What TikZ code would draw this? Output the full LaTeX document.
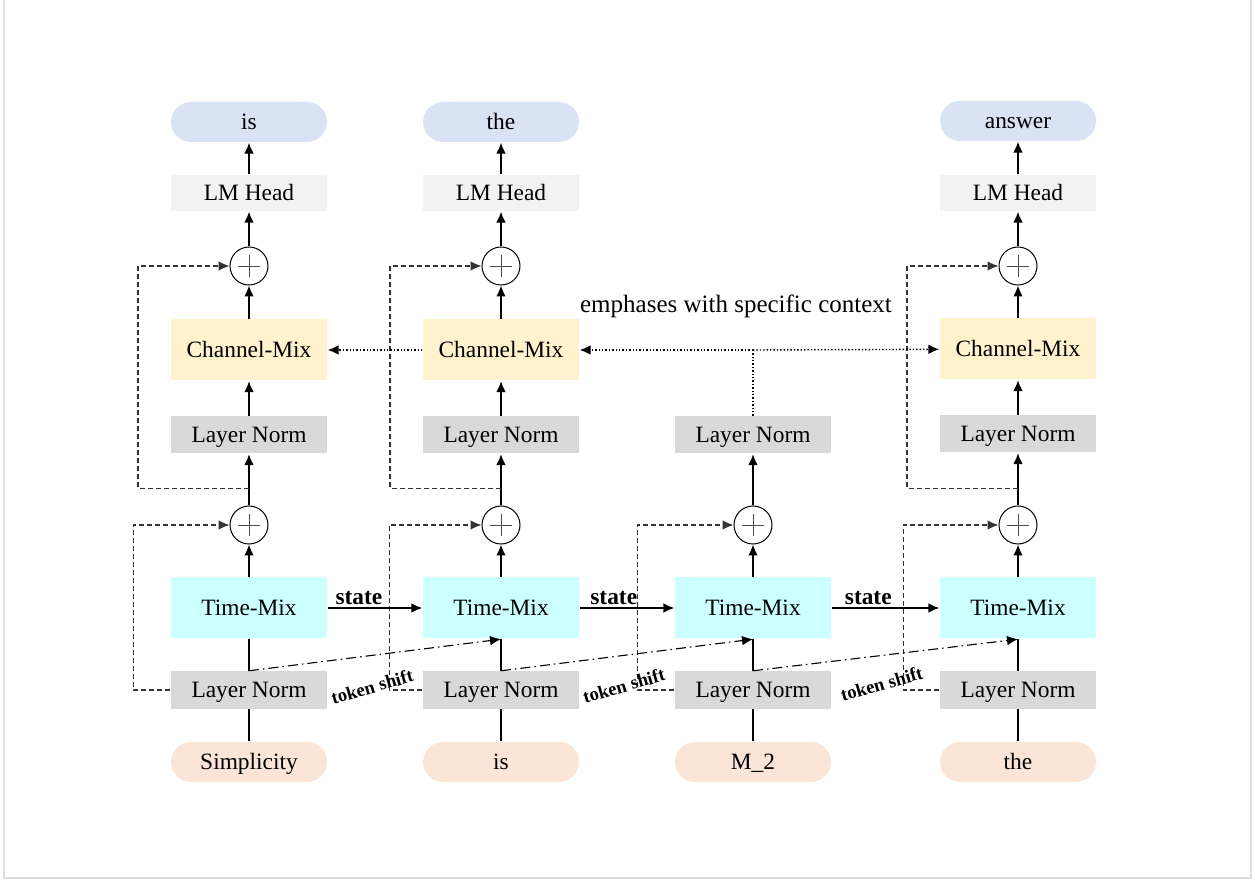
\documentclass[tikz,border=0pt]{standalone}
\usepackage{fontspec}
\setmainfont{Liberation Serif}
\usetikzlibrary{arrows.meta}
\usetikzlibrary{calc}
\tikzset{>={Latex[length=5.5pt,width=4.8pt]}}
\definecolor{outc}{HTML}{DAE3F3}
\definecolor{inc}{HTML}{FBE5D6}
\definecolor{lmc}{HTML}{F2F2F2}
\definecolor{cmc}{HTML}{FFF2CC}
\definecolor{lnc}{HTML}{D9D9D9}
\definecolor{tmc}{HTML}{CCFFFF}
\tikzset{blk/.style={minimum width=78pt,inner sep=0pt,text height=7.8pt,text depth=0pt,font=\fontsize{11.7}{14}\selectfont},
    outtok/.style={blk,fill=outc,rounded corners=10pt,minimum height=20pt},
    intok/.style={blk,fill=inc,rounded corners=10pt,minimum height=20pt},
    lmbox/.style={blk,fill=lmc,minimum height=18pt},
    cmbox/.style={blk,fill=cmc,minimum height=30.5pt},
    lnbox/.style={blk,fill=lnc,minimum height=18.5pt},
    tmbox/.style={blk,fill=tmc,minimum height=30.5pt},
    sumc/.style={circle,draw,fill=white,minimum size=19pt,inner sep=0pt,line width=0.5pt,
        path picture={\draw[black!70,line width=0.4pt]
            ($(path picture bounding box.center)+(-5.3pt,0)$) -- ($(path picture bounding box.center)+(5.3pt,0)$)
            ($(path picture bounding box.center)+(0,-5.3pt)$) -- ($(path picture bounding box.center)+(0,5.3pt)$);}},
    res/.style={draw=black!80,line width=0.6pt,dash pattern=on 2.5pt off 1.5pt},
    tokline/.style={line width=0.55pt,dash pattern=on 5pt off 2pt on 0.8pt off 2pt},
    emph/.style={line width=0.7pt,densely dotted},
    tsh/.style={font=\bfseries\fontsize{9.3}{11}\selectfont,rotate=16,inner sep=0pt},
    st/.style={font=\bfseries\fontsize{11.7}{14}\selectfont,above,inner sep=1.5pt}}

\begin{document}
\begin{tikzpicture}[x=0.5pt,y=-0.5pt,line width=0.7pt]
    \useasboundingbox (0,0) rectangle (1255,882);
    \draw[gray!25,line width=1pt] (4,0) -- (4,878) -- (1251,878) -- (1251,0);

    % column 1
    \node[outtok] (o1) at (249,122) {is};
    \node[lmbox] (h1) at (249,193) {LM Head};
    \node[sumc] (s1) at (249,266) {};
    \node[cmbox] (c1) at (249,350) {Channel-Mix};
    \node[lnbox] (n1) at (249,435) {Layer Norm};
    \node[sumc] (a1) at (249,525) {};
    \node[tmbox] (t1) at (249,608) {Time-Mix};
    \node[lnbox] (l1) at (249,690) {Layer Norm};
    \node[intok] (i1) at (249,762) {Simplicity};

    % column 2
    \node[outtok] (o2) at (501,122) {the};
    \node[lmbox] (h2) at (501,193) {LM Head};
    \node[sumc] (s2) at (501,266) {};
    \node[cmbox] (c2) at (501,350) {Channel-Mix};
    \node[lnbox] (n2) at (501,435) {Layer Norm};
    \node[sumc] (a2) at (501,525) {};
    \node[tmbox] (t2) at (501,608) {Time-Mix};
    \node[lnbox] (l2) at (501,690) {Layer Norm};
    \node[intok] (i2) at (501,762) {is};

    % column 3
    \node[lnbox] (n3) at (753,435) {Layer Norm};
    \node[sumc] (a3) at (753,525) {};
    \node[tmbox] (t3) at (753,608) {Time-Mix};
    \node[lnbox] (l3) at (753,690) {Layer Norm};
    \node[intok] (i3) at (753,762) {M\_2};

    % column 4
    \node[outtok] (o4) at (1018,121) {answer};
    \node[lmbox] (h4) at (1018,193) {LM Head};
    \node[sumc] (s4) at (1018,266) {};
    \node[cmbox] (c4) at (1018,349) {Channel-Mix};
    \node[lnbox] (n4) at (1018,434) {Layer Norm};
    \node[sumc] (a4) at (1018,525) {};
    \node[tmbox] (t4) at (1018,608) {Time-Mix};
    \node[lnbox] (l4) at (1018,690) {Layer Norm};
    \node[intok] (i4) at (1018,762) {the};

    \node[font=\fontsize{12.5}{15}\selectfont] (ctx) at (736,306) {emphases with specific context};
    \coordinate (em) at (753,350);

    % main paths
    \draw (i1) -- (l1); \draw (l1) -- (t1); \draw[->] (t1) -- (a1); \draw[->] (a1) -- (n1);
    \draw[->] (n1) -- (c1); \draw[->] (c1) -- (s1); \draw[->] (s1) -- (h1); \draw[->] (h1) -- (o1);
    \draw (i2) -- (l2); \draw (l2) -- (t2); \draw[->] (t2) -- (a2); \draw[->] (a2) -- (n2);
    \draw[->] (n2) -- (c2); \draw[->] (c2) -- (s2); \draw[->] (s2) -- (h2); \draw[->] (h2) -- (o2);
    \draw (i3) -- (l3); \draw (l3) -- (t3); \draw[->] (t3) -- (a3); \draw[->] (a3) -- (n3);
    \draw (i4) -- (l4); \draw (l4) -- (t4); \draw[->] (t4) -- (a4); \draw[->] (a4) -- (n4);
    \draw[->] (n4) -- (c4); \draw[->] (c4) -- (s4); \draw[->] (s4) -- (h4); \draw[->] (h4) -- (o4);

    % residuals
    \draw[res,->] (l1.west) -- ++(-37,0) |- (a1);
    \draw[res,->] (l2.west) -- ++(-33,0) |- (a2);
    \draw[res,->] (l3.west) -- ++(-37,0) |- (a3);
    \draw[res,->] (l4.west) -- ++(-36,0) |- (a4);
    \draw[res,->] ($(a1.north)+(0,-17)$) -- ++(-111,0) |- (s1);
    \draw[res,->] ($(a2.north)+(0,-17)$) -- ++(-111,0) |- (s2);
    \draw[res,->] ($(a4.north)+(0,-17)$) -- ++(-111,0) |- (s4);

    % state
    \draw[->] (t1) -- node[st,pos=0.33] {state} (t2);
    \draw[->] (t2) -- node[st,pos=0.36] {state} (t3);
    \draw[->] (t3) -- node[st,pos=0.34] {state} (t4);

    % token shift
    \draw[tokline,->] (l1.north) -- node[tsh,pos=0.49,xshift=-4.5pt,yshift=-15pt] {token shift} (t2.south);
    \draw[tokline,->] (l2.north) -- node[tsh,pos=0.49,xshift=-4.5pt,yshift=-14.5pt] {token shift} (t3.south);
    \draw[tokline,->] (l3.north) -- node[tsh,pos=0.49,xshift=-4.5pt,yshift=-13.5pt] {token shift} (t4.south);

    % context
    \draw[emph] (n3) -- (em);
    \draw[emph,->] (em) -- (c2);
    \draw[emph,->] (em) -- (c4);
    \draw[emph,->] (c2) -- (c1);
\end{tikzpicture}
\end{document}
